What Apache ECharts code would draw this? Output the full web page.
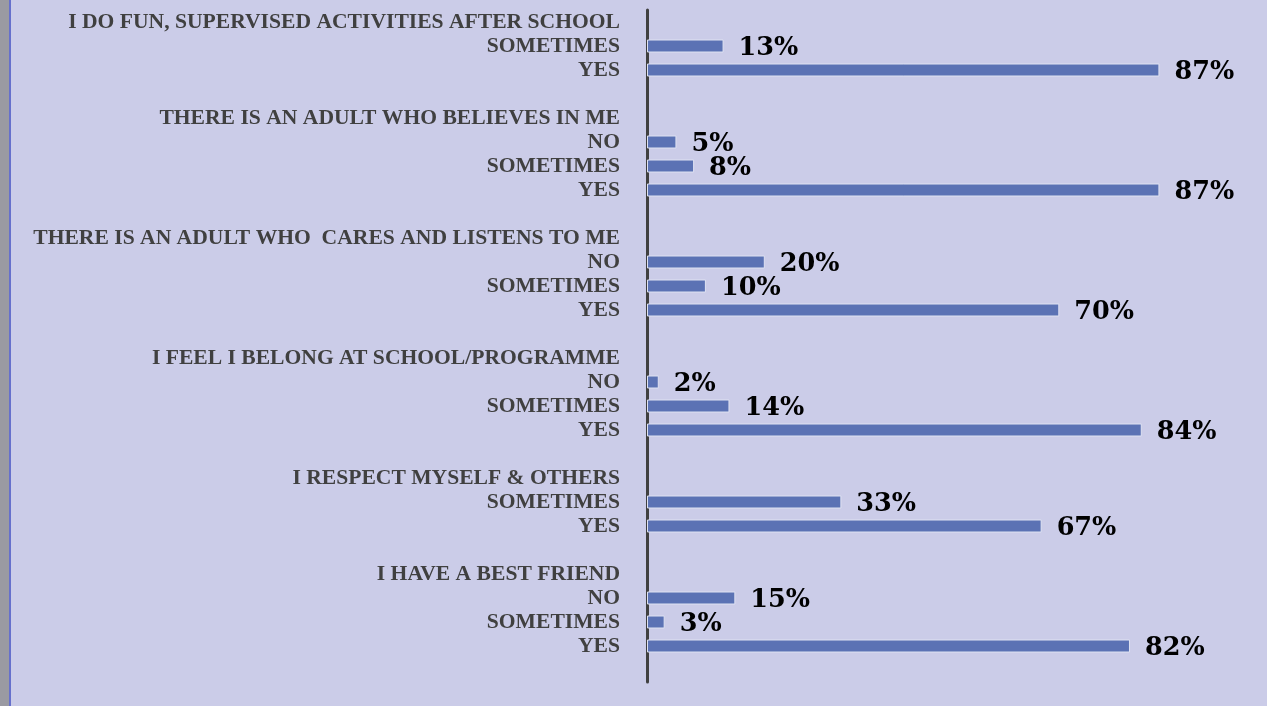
<!DOCTYPE html>
<html>
<head>
<meta charset="utf-8">
<script src="https://cdn.jsdelivr.net/npm/echarts@6/dist/echarts.min.js"></script>
<style>
  html, body { margin: 0; padding: 0; background: #cbcce8; }
  #chart { width: 1267px; height: 706px; }
</style>
</head>
<body>
<div id="chart"></div>
<script>
// Survey rows, top to bottom: question headings carry no bar, blank rows separate groups
const categories = [
  'I DO FUN, SUPERVISED ACTIVITIES AFTER SCHOOL', 'SOMETIMES', 'YES', '',
  'THERE IS AN ADULT WHO BELIEVES IN ME', 'NO', 'SOMETIMES', 'YES', ' ',
  'THERE IS AN ADULT WHO  CARES AND LISTENS TO ME', 'NO', 'SOMETIMES', 'YES', '  ',
  'I FEEL I BELONG AT SCHOOL/PROGRAMME', 'NO', 'SOMETIMES', 'YES', '   ',
  'I RESPECT MYSELF & OTHERS', 'SOMETIMES', 'YES', '    ',
  'I HAVE A BEST FRIEND', 'NO', 'SOMETIMES', 'YES', '     '
];

// Percent of responses per row (null = heading or spacer row)
const percentages = [
  null, 13, 87, null,
  null, 5, 8, 87, null,
  null, 20, 10, 70, null,
  null, 2, 14, 84, null,
  null, 33, 67, null,
  null, 15, 3, 82, null
];

const chart = echarts.init(document.getElementById('chart'));

chart.setOption({
  backgroundColor: '#cbcce8',
  animation: false,
  graphic: [
    { type: 'rect', left: 0, top: 0, shape: { width: 9, height: 706 },
      style: { fill: '#9a9aa2' }, silent: true },
    { type: 'rect', left: 9, top: 0, shape: { width: 2, height: 706 },
      style: { fill: '#6670cc' }, silent: true }
  ],
  grid: { left: 647, right: 31, top: 10, bottom: 24, containLabel: false },
  xAxis: {
    type: 'value', min: 0, max: 100,
    show: false
  },
  yAxis: {
    type: 'category',
    data: categories,
    inverse: true,
    axisLine: { show: true, lineStyle: { color: '#404040', width: 3 } },
    axisTick: { show: false },
    axisLabel: {
      interval: 0,
      margin: 27,
      color: '#404040',
      fontFamily: "'Liberation Serif', 'DejaVu Serif', serif",
      fontWeight: 'bold',
      fontSize: 21.6
    }
  },
  series: [{
    type: 'bar',
    data: percentages,
    barWidth: 13,
    itemStyle: { color: '#5b72b4', borderColor: '#dfe2f2', borderWidth: 1 },
    label: {
      show: true,
      position: 'right',
      distance: 15,
      offset: [0, 2],
      color: '#000',
      fontFamily: "'DejaVu Serif', serif",
      fontWeight: 'bold',
      fontSize: 25.5,
      formatter: p => (p.value == null ? '' : p.value + '%')
    }
  }]
});
</script>
</body>
</html>
